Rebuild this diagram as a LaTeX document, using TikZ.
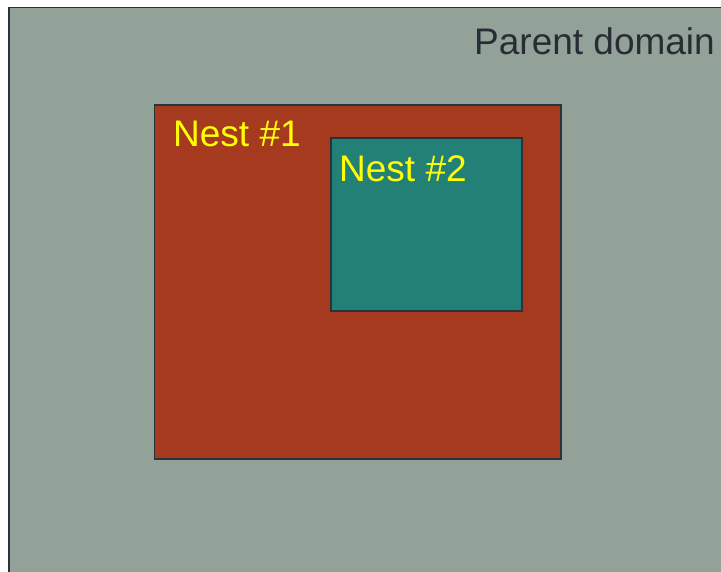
\documentclass[tikz,border=0pt]{standalone}
\usepackage{fontspec}
\setmainfont{Liberation Sans}
\definecolor{parentfill}{RGB}{146,162,152}
\definecolor{nestonefill}{RGB}{166,58,30}
\definecolor{nesttwofill}{RGB}{34,128,118}
\definecolor{edgecol}{RGB}{44,50,60}
\definecolor{labelcol}{RGB}{255,255,0}
\definecolor{parenttext}{RGB}{40,44,52}
\tikzset{
  domainbox/.style={draw=edgecol, line width=1.8pt},
  domainlabel/.style={anchor=base west, inner sep=0pt, font=\fontsize{37}{41}\selectfont}
}
\begin{document}
\begin{tikzpicture}[x=1pt, y=1pt]
\useasboundingbox (0, 0) rectangle (721, 572);
% domains
\draw [domainbox, fill=parentfill] (9, -20) rectangle (740, 564.5);
\draw [domainbox, fill=nestonefill] (154.5, 113) rectangle (561, 467);
\draw [domainbox, fill=nesttwofill] (331, 261) rectangle (522, 434);
% labels
\node [domainlabel, text=parenttext] (parent) at (474, 517) {Parent domain};
\node [domainlabel, text=labelcol] (nestone) at (173, 425) {Nest \#1};
\node [domainlabel, text=labelcol] (nesttwo) at (339, 390) {Nest \#2};
\end{tikzpicture}
\end{document}
